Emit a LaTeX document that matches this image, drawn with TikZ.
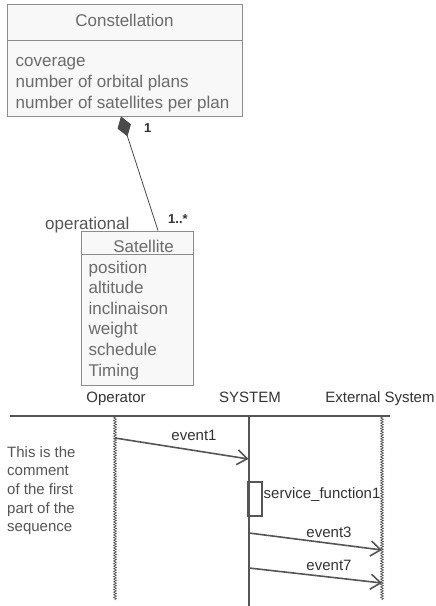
\documentclass[tikz,border=0pt]{standalone}
\usepackage{fontspec}
\setmainfont{Liberation Sans}
\usetikzlibrary{arrows.meta,decorations.pathmorphing}
\definecolor{boxgray}{HTML}{8C8C8C}
\definecolor{boxfill}{HTML}{F8F8F8}
\definecolor{textgray}{HTML}{6B6B6B}
\definecolor{linkgray}{HTML}{4A4A4A}
\definecolor{seqgray}{HTML}{555555}
\definecolor{seqtext}{HTML}{333333}

\begin{document}
\begin{tikzpicture}[x=1pt, y=-1pt,
    classbox/.style={draw=boxgray, fill=boxfill, line width=0.9pt, inner sep=0pt},
    classtext/.style={text=textgray, font=\fontsize{17}{21}\selectfont, inner sep=0pt},
    multlabel/.style={text=seqtext, font=\fontsize{13}{15}\selectfont\bfseries, inner sep=0pt},
    seqlabel/.style={text=seqtext, font=\fontsize{15}{18.7}\selectfont, inner sep=0pt},
    lifeline/.style={seqgray, line width=0.7pt, decorate, decoration={zigzag, segment length=2.6pt, amplitude=1.4pt}},
    message/.style={seqgray, line width=1.6pt, -{Straight Barb[length=10pt, width=15pt]}}]
  \useasboundingbox (0,0) rectangle (436,606);

  % class diagram
  \node[classbox, minimum width=235pt, minimum height=112pt] (constellation) at (124.5,60) {};
  \node[classtext, anchor=base] (constellation-title) at (124.5,26.5) {Constellation};
  \draw[boxgray, line width=0.9pt] ([yshift=-37pt]constellation.north west) -- ([yshift=-37pt]constellation.north east);
  \foreach \attr [count=\i] in {coverage, number of orbital plans, number of satellites per plan}
    \node[classtext, anchor=base west] (constellation-attr\i) at (15.5,45+21*\i) {\attr};

  \node[classbox, minimum width=112pt, minimum height=154pt] (satellite) at (137,308) {};
  \node[classtext, anchor=base] (satellite-title) at (143.5,252) {Satellite};
  \draw[boxgray, line width=0.9pt] ([yshift=-24pt]satellite.north west) -- ([yshift=-24pt]satellite.north east);
  \foreach \attr [count=\i] in {position, altitude, inclinaison, weight, schedule, Timing}
    \node[classtext, anchor=base west] (satellite-attr\i) at (88.5,252.4+20.6*\i) {\attr};

  \node[classtext, text=seqgray, anchor=base west] (role) at (45,229) {operational};
  \draw[linkgray, line width=0.8pt, {Diamond[length=21pt, width=14pt, fill=linkgray]}-]
    ([xshift=-3.5pt]constellation.south) -- ([xshift=21pt]satellite.north);
  \node[multlabel, anchor=base west] (mult-one) at (144,132) {1};
  \node[multlabel, anchor=base west] (mult-many) at (168,223) {1..*};

  % sequence diagram
  \node[seqlabel, anchor=base] (operator) at (116,402) {Operator};
  \node[seqlabel, anchor=base] (system) at (250,402) {SYSTEM};
  \node[seqlabel, anchor=base] (external) at (380,402) {External System};
  \draw[seqgray, line width=1.2pt] (10,416) -- (390,416);

  \coordinate (operator-top) at (115,416);
  \coordinate (operator-end) at (115,600);
  \coordinate (system-top) at (249,416);
  \coordinate (system-end) at (249,606);
  \coordinate (external-top) at (382,416);
  \coordinate (external-end) at (382,600);
  \draw[lifeline] (operator-top) -- (operator-end);
  \draw[lifeline] (external-top) -- (external-end);
  \draw[seqgray, line width=1.2pt] (system-top) -- (system-end);

  \node[draw=seqgray, line width=2.3pt, fill=white, minimum width=13.5pt, minimum height=34.5pt, inner sep=0pt] (activation) at (255.3,499) {};
  \node[seqlabel, anchor=base west] (service) at (263.5,498) {service\_function1};

  \coordinate (ev1-from) at (115,438);
  \coordinate (ev1-to) at (248.5,459);
  \coordinate (ev3-from) at (249,533);
  \coordinate (ev3-to) at (382,550);
  \coordinate (ev7-from) at (249,568);
  \coordinate (ev7-to) at (382,583);
  \draw[message] (ev1-from) -- (ev1-to);
  \draw[message] (ev3-from) -- (ev3-to);
  \draw[message] (ev7-from) -- (ev7-to);
  \node[seqlabel, anchor=base] (ev1-label) at (194,440) {event1};
  \node[seqlabel, anchor=base] (ev3-label) at (329,537) {event3};
  \node[seqlabel, anchor=base] (ev7-label) at (329,570) {event7};

  \node[seqlabel, text=seqgray, align=left, anchor=north west] (comment) at (7,446)
    {This is the\\comment\\of the first\\part of the\\sequence};
\end{tikzpicture}
\end{document}
